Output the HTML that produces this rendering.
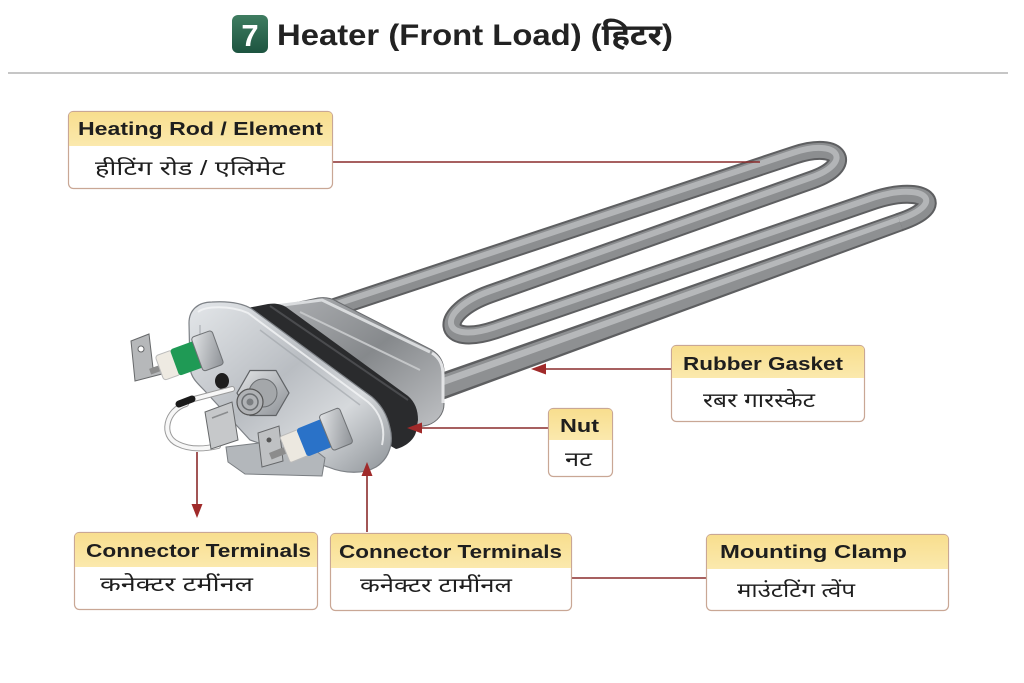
<!DOCTYPE html>
<html><head><meta charset="utf-8"><style>
html,body{margin:0;padding:0;background:#fff;}
svg{display:block;}
.t{font-family:"Liberation Sans","Noto Sans Devanagari","Lohit Devanagari","FreeSans",sans-serif;}
</style></head><body>
<svg width="1024" height="683" viewBox="0 0 1024 683" xmlns="http://www.w3.org/2000/svg">
<defs>
<linearGradient id="badge" x1="0" y1="0" x2="0" y2="1"><stop offset="0" stop-color="#3f7d61"/><stop offset="1" stop-color="#1d5440"/></linearGradient>
<linearGradient id="hdr" x1="0" y1="0" x2="0" y2="1"><stop offset="0" stop-color="#f8de8e"/><stop offset="1" stop-color="#fbe9ad"/></linearGradient>
<linearGradient id="plate" x1="0" y1="0" x2="1" y2="1"><stop offset="0" stop-color="#e4e7ea"/><stop offset="0.45" stop-color="#b9bdc2"/><stop offset="0.7" stop-color="#d6d9dc"/><stop offset="1" stop-color="#8e9398"/></linearGradient>
<linearGradient id="box" x1="0" y1="0" x2="1" y2="1"><stop offset="0" stop-color="#b0b2b5"/><stop offset="0.5" stop-color="#86898c"/><stop offset="1" stop-color="#c0c2c5"/></linearGradient>
<linearGradient id="nut" x1="0" y1="0" x2="1" y2="1"><stop offset="0" stop-color="#e2e4e6"/><stop offset="1" stop-color="#8d9196"/></linearGradient>
</defs>

<!-- Title -->
<rect x="232" y="15" width="36" height="38" rx="6" fill="url(#badge)"/>
<text x="250" y="46" class="t" font-size="31" font-weight="bold" fill="#fff" text-anchor="middle">7</text>
<text x="277" y="45" class="t" font-size="30" font-weight="bold" fill="#222" textLength="396" lengthAdjust="spacingAndGlyphs">Heater (Front Load) (हिटर)</text>
<line x1="8" y1="73" x2="1008" y2="73" stroke="#b4b4b4" stroke-width="1.5"/>

<!-- Tubes -->
<g fill="none" stroke-linecap="round" stroke-linejoin="round">
<path d="M 330,309 L 795,155 C 840,140 855,165 812,180 L 490,294 C 437,313 440,348 495,330 L 875,200 C 925,184 950,205 900,222" stroke="#5e5f61" stroke-width="19"/>
<path d="M 330,309 L 795,155 C 840,140 855,165 812,180 L 490,294 C 437,313 440,348 495,330 L 875,200 C 925,184 950,205 900,222" stroke="#8c8e90" stroke-width="15"/>
<path d="M 330,309 L 795,155 C 840,140 855,165 812,180 L 490,294 C 437,313 440,348 495,330 L 875,200 C 925,184 950,205 900,222" stroke="#b3b5b7" stroke-width="6" transform="translate(-1,-2.5)"/>
</g>
<polygon points="435.6,374.8 896.8,213.1 903.2,230.9 444.4,399.2" fill="#5e5f61"/>
<polygon points="436.5,377.1 897.5,214.9 902.5,229.1 443.5,396.9" fill="#8e9092"/>
<polygon points="437.5,379.9 898.2,216.8 899.8,221.6 439.9,386.5" fill="#b6b8ba"/>

<!-- Clamp box -->
<path d="M 266,309 L 318,298 C 325,297 331,298 336,301 L 432,350 C 440,355 444,362 444,372 L 444,404 C 444,414 437,422 428,425 L 405,430 L 266,340 Z" fill="url(#box)" stroke="#6a6c6f" stroke-width="1"/>
<path d="M 275,306 L 322,300 L 430,352" fill="none" stroke="#d9dbdd" stroke-width="3"/>
<path d="M 432,353 C 440,358 443,365 443,375 L 443,403" fill="none" stroke="#e2e3e5" stroke-width="3"/>
<path d="M 300,312 L 420,370" fill="none" stroke="#c4c6c8" stroke-width="2"/>

<!-- Gasket -->
<path d="M 232,311 L 268,304 C 275,303 281,304 286,307 L 408,396 C 415,402 418,410 418,420 L 416,432 C 414,440 405,447 396,449 L 380,440 L 232,330 Z" fill="#2a2b2d"/>
<path d="M 270,306 L 408,400" fill="none" stroke="#4a4b4e" stroke-width="2"/>

<!-- Plate -->
<path d="M 212,302 C 198,302 189,310 189,323 L 190,368 C 191,377 196,382 204,390 L 250,440 L 328,467 C 345,474 364,474 376,467 C 389,459 394,443 390,428 C 387,414 381,405 372,397 L 252,309 C 242,303 228,301 212,302 Z" fill="url(#plate)" stroke="#7d8186" stroke-width="1.2"/>
<path d="M 198,312 C 205,306 230,305 248,313 L 368,402 C 380,412 386,428 382,445" fill="none" stroke="#f4f5f6" stroke-width="2" opacity="0.8"/>
<path d="M 200,325 L 200,365 M 260,330 L 360,405" fill="none" stroke="#9da1a6" stroke-width="1.5" opacity="0.6"/>

<!-- Bracket tab -->
<path d="M 226,447 L 300,438 L 325,458 L 322,476 L 245,474 L 228,462 Z" fill="#b3b7bb" stroke="#7a7e82" stroke-width="1"/>

<!-- Black knob -->
<ellipse cx="222" cy="381" rx="7" ry="8" fill="#1e1e1e"/>

<!-- Green terminal -->
<path d="M 131,341 L 149,334 L 153,368 L 160,366 L 162,374 L 135,381 Z" fill="#b6b8ba" stroke="#66686a" stroke-width="1"/>
<circle cx="141" cy="349" r="3" fill="#fff" stroke="#66686a" stroke-width="1"/>
<g transform="translate(152,371) rotate(-20)">
<rect x="-2" y="-3" width="14" height="6" fill="#8c8c8c"/>
<rect x="8" y="-13" width="18" height="26" rx="3" fill="#eeeae2" stroke="#bbb" stroke-width="1"/>
<rect x="24" y="-14" width="26" height="28" rx="3" fill="#1f9a55"/>
<rect x="48" y="-18" width="22" height="36" rx="3" fill="url(#nut)" stroke="#6f7275" stroke-width="1"/>
</g>

<!-- Center nut & stud -->
<polygon points="289,393 276,415.5 250,415.5 237,393 250,370.5 276,370.5" fill="url(#nut)" stroke="#5f6265" stroke-width="1.2"/>
<circle cx="263" cy="393" r="14" fill="#a4a7aa" stroke="#6a6d70" stroke-width="1"/>
<circle cx="250" cy="402" r="13" fill="#b0b2b5" stroke="#555" stroke-width="1.2"/>
<circle cx="250" cy="402" r="8" fill="none" stroke="#6a6d70" stroke-width="1.5"/>
<circle cx="250" cy="402" r="3.5" fill="#7b7e81"/>

<!-- Wire -->
<g fill="none" stroke-linecap="round">
<path d="M 232,389 L 190,400 M 186,404 C 166,410 160,436 178,444 C 190,450 205,449 218,446" stroke="#9a9a9a" stroke-width="6"/>
<path d="M 232,389 L 190,400 M 186,404 C 166,410 160,436 178,444 C 190,450 205,449 218,446" stroke="#f7f7f7" stroke-width="4"/>
<path d="M 179,404 L 192,399" stroke="#1a1a1a" stroke-width="7"/>
</g>

<!-- Center spade tabs -->
<path d="M 205,412 L 232,402 L 238,440 L 211,449 Z" fill="#c6c8ca" stroke="#66686a" stroke-width="1"/>
<path d="M 212,418 L 228,412" stroke="#8a8c8e" stroke-width="1.5"/>

<!-- Blue terminal -->
<path d="M 258,433 L 279,426 L 283,461 L 262,467 Z" fill="#bfc1c3" stroke="#66686a" stroke-width="1"/>
<circle cx="269" cy="440" r="2.5" fill="#555"/>
<g transform="translate(272,455) rotate(-22)">
<rect x="-2" y="-3" width="18" height="7" fill="#8c8c8c"/>
<rect x="14" y="-14" width="20" height="28" rx="2" fill="#ece8e0" stroke="#bbb" stroke-width="1"/>
<rect x="32" y="-15" width="28" height="30" rx="3" fill="#2a72c8"/>
<rect x="58" y="-19" width="22" height="38" rx="3" fill="url(#nut)" stroke="#6f7275" stroke-width="1"/>
</g>

<!-- Connectors -->
<g stroke="#8a2b2b" stroke-width="1.6" fill="none">
<line x1="333" y1="162" x2="760" y2="162"/>
<line x1="671" y1="369" x2="545" y2="369"/>
<line x1="548" y1="428" x2="421" y2="428"/>
<line x1="197" y1="452" x2="197" y2="505"/>
<line x1="367" y1="532" x2="367" y2="475"/>
<line x1="572" y1="578" x2="706" y2="578"/>
</g>
<g fill="#a02a2a">
<polygon points="531,369 546,363.5 546,374.5"/>
<polygon points="407,428 422,422.5 422,433.5"/>
<polygon points="197,518 191.5,504 202.5,504"/>
<polygon points="367,462 361.5,476 372.5,476"/>
</g>

<!-- Boxes -->
<g stroke="#c9a795" stroke-width="1.2">
<rect x="68.5" y="111.5" width="264" height="77" rx="5" fill="#fff"/>
<rect x="671.5" y="345.5" width="193" height="76" rx="5" fill="#fff"/>
<rect x="548.5" y="408.5" width="64" height="68" rx="5" fill="#fff"/>
<rect x="74.5" y="532.5" width="243" height="77" rx="5" fill="#fff"/>
<rect x="330.5" y="533.5" width="241" height="77" rx="5" fill="#fff"/>
<rect x="706.5" y="534.5" width="242" height="76" rx="5" fill="#fff"/>
</g>
<g fill="url(#hdr)">
<path d="M69,146 V116 Q69,112 73,112 H328 Q332,112 332,116 V146 Z"/>
<path d="M672,378 V350 Q672,346 676,346 H860 Q864,346 864,350 V378 Z"/>
<path d="M549,440 V413 Q549,409 553,409 H608 Q612,409 612,413 V440 Z"/>
<path d="M75,567 V537 Q75,533 79,533 H313 Q317,533 317,537 V567 Z"/>
<path d="M331,568 V538 Q331,534 335,534 H567 Q571,534 571,538 V568 Z"/>
<path d="M707,569 V539 Q707,535 711,535 H944 Q948,535 948,539 V569 Z"/>
</g>

<g class="t" fill="#1e1e1e">
<text x="78" y="135" font-size="18" font-weight="bold" textLength="245" lengthAdjust="spacingAndGlyphs">Heating Rod / Element</text>
<text x="95" y="175" font-size="20" textLength="190" lengthAdjust="spacingAndGlyphs">हीटिंग रोड / एलिमेट</text>

<text x="683" y="370" font-size="18" font-weight="bold" textLength="160" lengthAdjust="spacingAndGlyphs">Rubber Gasket</text>
<text x="703" y="407" font-size="20" textLength="112" lengthAdjust="spacingAndGlyphs">रबर गारस्केट</text>

<text x="560" y="432" font-size="18" font-weight="bold" textLength="39" lengthAdjust="spacingAndGlyphs">Nut</text>
<text x="565" y="466" font-size="20" textLength="27" lengthAdjust="spacingAndGlyphs">नट</text>

<text x="86" y="557" font-size="18" font-weight="bold" textLength="225" lengthAdjust="spacingAndGlyphs">Connector Terminals</text>
<text x="100" y="591" font-size="20" textLength="153" lengthAdjust="spacingAndGlyphs">कनेक्टर टमींनल</text>

<text x="339" y="558" font-size="18" font-weight="bold" textLength="223" lengthAdjust="spacingAndGlyphs">Connector Terminals</text>
<text x="360" y="592" font-size="20" textLength="152" lengthAdjust="spacingAndGlyphs">कनेक्टर टामींनल</text>

<text x="720" y="558" font-size="18" font-weight="bold" textLength="187" lengthAdjust="spacingAndGlyphs">Mounting Clamp</text>
<text x="737" y="597" font-size="20" textLength="118" lengthAdjust="spacingAndGlyphs">माउंटटिंग त्वेंप</text>
</g>
</svg>
</body></html>
